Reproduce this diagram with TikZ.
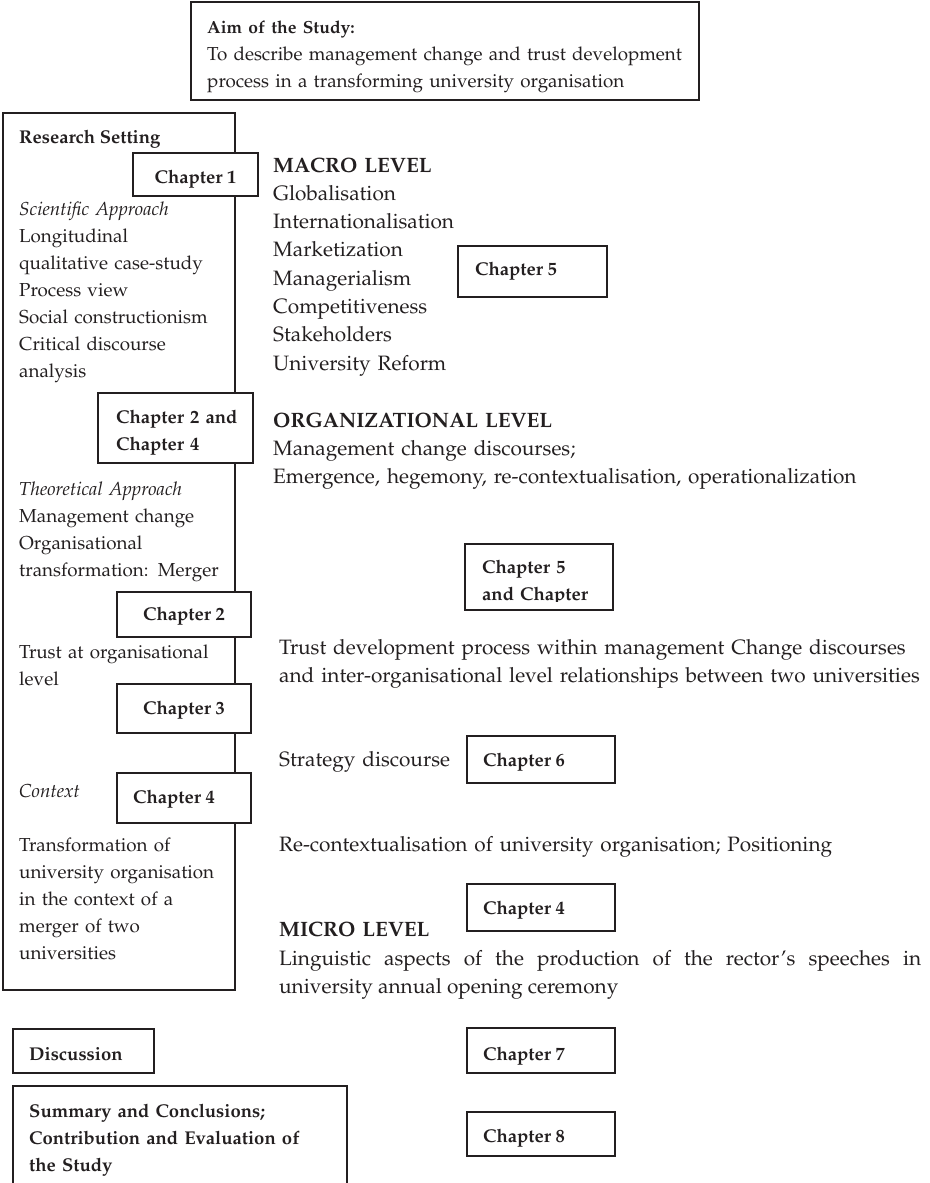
\documentclass[tikz,border=0pt]{standalone}
\usepackage[T1]{fontenc}
\renewcommand{\rmdefault}{ppl}
\definecolor{ink}{RGB}{35,31,32}
\newcommand{\leftsz}{\fontsize{18.8}{27}\selectfont}
\newcommand{\rightsz}{\fontsize{20.8}{28.3}\selectfont}
\newcommand{\labsz}{\fontsize{18.5}{27}\selectfont\bfseries}
\newcommand{\headsz}{\fontsize{17.5}{27}\selectfont\bfseries}
\tikzset{
  frame/.style={draw=ink, line width=1.2pt, inner sep=0pt, outer sep=0pt, anchor=north west},
  chapbox/.style={frame, fill=white},
  ltxt/.style={anchor=base west, inner sep=0pt, text=ink, font=\leftsz, align=left, text width=300pt},
  rtxt/.style={anchor=base west, inner sep=0pt, text=ink, font=\rightsz, align=left, text width=660pt},
  lab/.style={anchor=base west, inner sep=0pt, text=ink, font=\labsz},
  labblock/.style={lab, align=left, text width=330pt},
  labc/.style={lab, anchor=base},
}
\begin{document}
\begin{tikzpicture}[x=1pt,y=-1pt]
\useasboundingbox (0,0) rectangle (929,1183);

% aim of the study
\node[frame, minimum width=508, minimum height=98] (aim) at (191,2) {};
\node[ltxt, text width=480pt] (aimtxt) at (207,33)
  {{\headsz Aim of the Study:}\\To describe management change and trust development\\process in a transforming university organisation};

% research setting column
\node[frame, minimum width=232, minimum height=877] (setting) at (3,113) {};
\node[lab] (settitle) at (19,143) {Research Setting};
\node[ltxt] (sci) at (19,215) {\textit{Scientific Approach}\\Longitudinal\\qualitative case-study\\Process view\\Social constructionism\\Critical discourse\\analysis};
\node[ltxt] (theo) at (19,495) {\textit{Theoretical Approach}\\Management change\\Organisational\\transformation: Merger};
\node[ltxt] (trustorg) at (19,658) {Trust at organisational\\level};
\node[ltxt] (ctx) at (19,797) {\textit{Context}};
\node[ltxt] (transf) at (19,851) {Transformation of\\university organisation\\in the context of a\\merger of two\\universities};

% chapter boxes on the column edge
\node[chapbox, minimum width=125, minimum height=43] (c1) at (133,153) {};
\node[labc] (c1t) at (195.5,183) {Chapter 1};
\node[chapbox, minimum width=155, minimum height=70] (c24) at (98,393) {};
\node[labblock, text width=135pt] (c24t) at (116,423) {Chapter 2 and\\Chapter 4};
\node[chapbox, minimum width=134, minimum height=45] (c2) at (117,592) {};
\node[labc] (c2t) at (184,620) {Chapter 2};
\node[chapbox, minimum width=134, minimum height=49] (c3) at (117,684) {};
\node[labc] (c3t) at (184,714) {Chapter 3};
\node[chapbox, minimum width=134, minimum height=50] (c4a) at (117,773) {};
\node[lab] (c4at) at (133,803) {Chapter 4};

% macro level
\node[rtxt] (macro) at (273,172) {\textbf{MACRO LEVEL}\\Globalisation\\Internationalisation\\Marketization\\Managerialism\\Competitiveness\\Stakeholders\\University Reform};
\node[chapbox, minimum width=149, minimum height=51] (c5a) at (458,246) {};
\node[lab] (c5at) at (475,275) {Chapter 5};

% organizational level
\node[rtxt] (org) at (273,427) {\textbf{ORGANIZATIONAL LEVEL}\\Management change discourses;\\Emergence, hegemony, re-contextualisation, operationalization};
\node[chapbox, minimum width=148, minimum height=66] (c5b) at (465,544) {};
\begin{scope}
  \clip (465,544) rectangle (613,601);
  \node[labblock, text width=130pt] (c5bt) at (482,573) {Chapter 5\\and Chapter};
\end{scope}
\node[rtxt] (trust) at (279,654) {Trust development process within management Change discourses\\and inter-organisational level relationships between two universities};
\node[rtxt] (strat) at (279,766) {Strategy discourse};
\node[chapbox, minimum width=148, minimum height=47] (c6) at (467,736) {};
\node[lab] (c6t) at (483,766) {Chapter 6};
\node[rtxt] (recon) at (279,851) {Re-contextualisation of university organisation; Positioning};

% micro level
\node[chapbox, minimum width=148, minimum height=47] (c4b) at (467,884) {};
\node[lab] (c4bt) at (483,914) {Chapter 4};
\node[rtxt] (micro) at (279,936) {\textbf{MICRO LEVEL}};
\node[rtxt, text width=642pt, align=justify] (ling) at (279,965)
  {Linguistic aspects of the production of the rector's speeches in\linebreak university annual opening ceremony};

% closing parts
\node[frame, minimum width=141, minimum height=44] (disc) at (13,1029) {};
\node[lab] (disct) at (29,1060) {Discussion};
\node[chapbox, minimum width=148, minimum height=45] (c7) at (467,1028) {};
\node[lab] (c7t) at (483,1060) {Chapter 7};
\coordinate (sumbl) at (13,1184);
\coordinate (sumbr) at (347,1184);
\draw[draw=ink, line width=1.2pt] (sumbl) -- (13,1086) -- (347,1086) -- (sumbr);
\node[labblock] (sumt) at (29,1117) {Summary and Conclusions;\\Contribution and Evaluation of\\the Study};
\node[chapbox, minimum width=148, minimum height=44] (c8) at (467,1112) {};
\node[lab] (c8t) at (483,1142) {Chapter 8};
\end{tikzpicture}
\end{document}
